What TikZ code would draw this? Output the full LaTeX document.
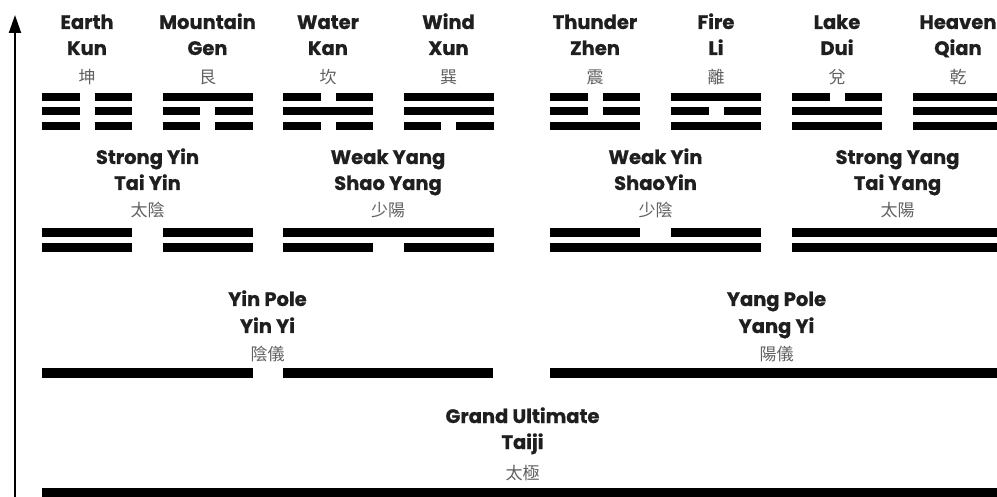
\documentclass[tikz,border=0pt]{standalone}
\usepackage{fontspec}
\setmainfont{Poppins}[BoldFeatures={FakeBold=0.8}]
\newfontfamily\cjk{Noto Sans CJK TC}
\usetikzlibrary{arrows.meta}

\tikzset{
  en/.style={font=\fontsize{19.5}{19.5}\selectfont\bfseries, text=black!88, inner sep=0pt, anchor=base},
  zh/.style={font=\cjk\fontsize{17}{17}\selectfont, text=black!62, inner sep=0pt, anchor=base},
  tri/.style={line width=8pt},
  duo/.style={line width=9pt},
  mono/.style={line width=10pt},
}
% one line of a figure: x, y, width, gap, 1 = yang / 0 = yin
\newcommand{\yao}[5]{%
  \ifnum#5=1 \draw (#1,#2) -- ++(#3,0);
  \else \draw (#1,#2) -- ++({(#3-#4)/2},0) ++(#4,0) -- ++({(#3-#4)/2},0);
  \fi}

\begin{document}
\begin{tikzpicture}[x=1pt,y=-1pt]
\useasboundingbox (0,0) rectangle (997,497);
\clip (0,0) rectangle (997,497);

% Axis
\coordinate (axis-bot) at (15,497);
\coordinate (axis-top) at (15,15);
\draw[line width=2pt, -{Triangle[length=18pt,width=12pt]}] (axis-bot) -- (axis-top);

% --- Eight trigrams (lines top to bottom) ---
\foreach \x/\a/\b/\c in {42/0/0/0, 162.5/1/0/0, 283/0/1/0, 403.5/1/1/0,
                         550/0/0/1, 671/1/0/1, 792/0/1/1, 913/1/1/1}{
  \begin{scope}[tri]
    \yao{\x}{97}{90}{15}{\a}
    \yao{\x}{111.5}{90}{15}{\b}
    \yao{\x}{126}{90}{15}{\c}
  \end{scope}
}
\foreach \x/\en/\py/\zh/\nm in {87/Earth/Kun/坤/kun, 207.5/Mountain/Gen/艮/gen,
    328/Water/Kan/坎/kan, 448.5/Wind/Xun/巽/xun, 595/Thunder/Zhen/震/zhen,
    716/Fire/Li/離/li, 837/Lake/Dui/兌/dui, 958/Heaven/Qian/乾/qian}{
  \node[en] (\nm-en) at (\x,29) {\en};
  \node[en] (\nm-py) at (\x,55) {\py};
  \node[zh] (\nm-zh) at (\x,84) {\zh};
}

% --- Four images ---
\foreach \x/\a/\b in {42/0/0, 283/1/0, 550/0/1, 792/1/1}{
  \begin{scope}[duo]
    \yao{\x}{233}{211}{31}{\a}
    \yao{\x}{248}{211}{31}{\b}
  \end{scope}
}
\foreach \x/\en/\py/\zh/\nm in {147.5/Strong Yin/Tai Yin/太陰/taiyin,
    388/Weak Yang/Shao Yang/少陽/shaoyang, 655.5/Weak Yin/ShaoYin/少陰/shaoyin,
    897.5/Strong Yang/Tai Yang/太陽/taiyang}{
  \node[en] (\nm-en) at (\x,164) {\en};
  \node[en] (\nm-py) at (\x,190) {\py};
  \node[zh] (\nm-zh) at (\x,217) {\zh};
}

% --- Two poles ---
\begin{scope}[mono]
  \yao{42}{373}{451}{30}{0}
  \yao{550}{373}{453}{0}{1}
\end{scope}
\node[en] (yinpole-en) at (267.5,306) {Yin Pole};
\node[en] (yinpole-py) at (267.5,333) {Yin Yi};
\node[zh] (yinpole-zh) at (267.5,360) {陰儀};
\node[en] (yangpole-en) at (776.5,306) {Yang Pole};
\node[en] (yangpole-py) at (776.5,333) {Yang Yi};
\node[zh] (yangpole-zh) at (776.5,360) {陽儀};

% --- Grand Ultimate ---
\begin{scope}[mono]
  \yao{42}{493}{961}{0}{1}
\end{scope}
\node[en] (taiji-en) at (522.5,423) {Grand Ultimate};
\node[en] (taiji-py) at (522.5,449) {Taiji};
\node[zh] (taiji-zh) at (522.5,479) {太極};

\end{tikzpicture}
\end{document}
